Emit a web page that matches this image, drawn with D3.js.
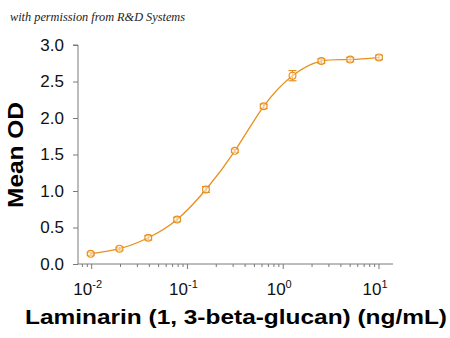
<!DOCTYPE html>
<html><head><meta charset="utf-8">
<script src="https://cdn.jsdelivr.net/npm/d3@7"></script>
<style>body{margin:0;background:#fff}svg{display:block}</style>
</head><body>
<script>
const concentrations = [0.00977, 0.0195, 0.039, 0.078, 0.156, 0.3125, 0.625, 1.25, 2.5, 5, 10];
const meanOD = [0.14, 0.21, 0.36, 0.61, 1.02, 1.55, 2.16, 2.58, 2.78, 2.80, 2.83];
const errOD = [0.02, 0.02, 0.03, 0.03, 0.04, 0.02, 0.03, 0.07, 0.03, 0.03, 0.03];
const yTicks = [0, 0.5, 1.0, 1.5, 2.0, 2.5, 3.0];
const xTicks = [0.01, 0.1, 1, 10];
const xTickExp = ["-2", "-1", "0", "1"];

const W = 450, H = 338;
const color = "#E8901C";
const axisColor = "#7a7a7a";
const svg = d3.select("body").append("svg").attr("width", W).attr("height", H);

const x = d3.scaleLog().domain([0.0072, 14]).range([78, 393]);
const y = d3.scaleLinear().domain([0, 3]).range([264, 45]);

svg.append("text").attr("x", 10).attr("y", 21)
  .attr("font-family", "Liberation Serif, serif").attr("font-style", "italic")
  .attr("font-size", 12).attr("fill", "#222")
  .attr("textLength", 175).attr("lengthAdjust", "spacingAndGlyphs")
  .text("with permission from R&D Systems");

// Y axis
const yAxis = svg.append("g").attr("transform", "translate(78,0)")
  .call(d3.axisLeft(y).tickValues(yTicks).tickFormat(d3.format(".1f")).tickSize(5).tickPadding(9));
yAxis.select(".domain").attr("stroke", axisColor).attr("d", `M-5,${y(3)}H0V${y(0)}`);
yAxis.selectAll(".tick line").attr("stroke", axisColor);
yAxis.selectAll("text").attr("font-family", "Liberation Sans, Arial, sans-serif").attr("font-size", 17).attr("fill", "#111");

// X axis minor ticks
const minor = [];
for (let e = -3; e <= 1; e++) for (let m = 1; m <= 9; m++) {
  const v = m * Math.pow(10, e);
  if (v >= 0.0072 && v <= 14 && m !== 1) minor.push(v);
}
const xg = svg.append("g").attr("transform", `translate(0,${y(0)})`);
xg.append("line").attr("x1", 78).attr("x2", 393).attr("stroke", axisColor);
xg.selectAll(".minor").data(minor).join("line")
  .attr("x1", d => x(d)).attr("x2", d => x(d)).attr("y1", 0).attr("y2", 3).attr("stroke", axisColor);
xg.selectAll(".major").data(xTicks).join("line")
  .attr("x1", d => x(d)).attr("x2", d => x(d)).attr("y1", 0).attr("y2", 5).attr("stroke", axisColor);
const lbl = xg.selectAll(".lbl").data(xTicks).join("text")
  .attr("x", d => x(d) - 4).attr("y", 31).attr("text-anchor", "middle")
  .attr("font-family", "Liberation Sans, Arial, sans-serif").attr("font-size", 17).attr("fill", "#111");
lbl.append("tspan").text("10");
lbl.append("tspan").attr("dy", -7).attr("font-size", 11).text((d, i) => xTickExp[i]);

// Curve
const pts = concentrations.map((c, i) => [x(c), y(meanOD[i])]);
svg.append("path").attr("d", d3.line().curve(d3.curveNatural)(pts))
  .attr("fill", "none").attr("stroke", color).attr("stroke-width", 1.3);

// Error bars and points
const g = svg.append("g").attr("stroke", color).attr("fill", "none").attr("stroke-width", 1.2);
concentrations.forEach((c, i) => {
  const cx = x(c), top = y(meanOD[i] + errOD[i]), bot = y(meanOD[i] - errOD[i]);
  g.append("line").attr("x1", cx).attr("x2", cx).attr("y1", top).attr("y2", bot);
  g.append("line").attr("x1", cx - 4).attr("x2", cx + 4).attr("y1", top).attr("y2", top);
  g.append("line").attr("x1", cx - 4).attr("x2", cx + 4).attr("y1", bot).attr("y2", bot);
  g.append("circle").attr("cx", cx).attr("cy", y(meanOD[i])).attr("r", 3.4).attr("fill", "rgba(255,255,255,0.5)");
});

// Axis titles
svg.append("text").attr("transform", "translate(23,155) rotate(-90)").attr("text-anchor", "middle")
  .attr("font-family", "Liberation Sans, Arial, sans-serif").attr("font-weight", "bold")
  .attr("font-size", 22).attr("fill", "#000")
  .attr("textLength", 106).attr("lengthAdjust", "spacingAndGlyphs").text("Mean OD");
svg.append("text").attr("x", 236).attr("y", 324).attr("text-anchor", "middle")
  .attr("font-family", "Liberation Sans, Arial, sans-serif").attr("font-weight", "bold")
  .attr("font-size", 21).attr("fill", "#000")
  .attr("textLength", 422).attr("lengthAdjust", "spacingAndGlyphs")
  .text("Laminarin (1, 3-beta-glucan) (ng/mL)");
</script>
</body></html>
